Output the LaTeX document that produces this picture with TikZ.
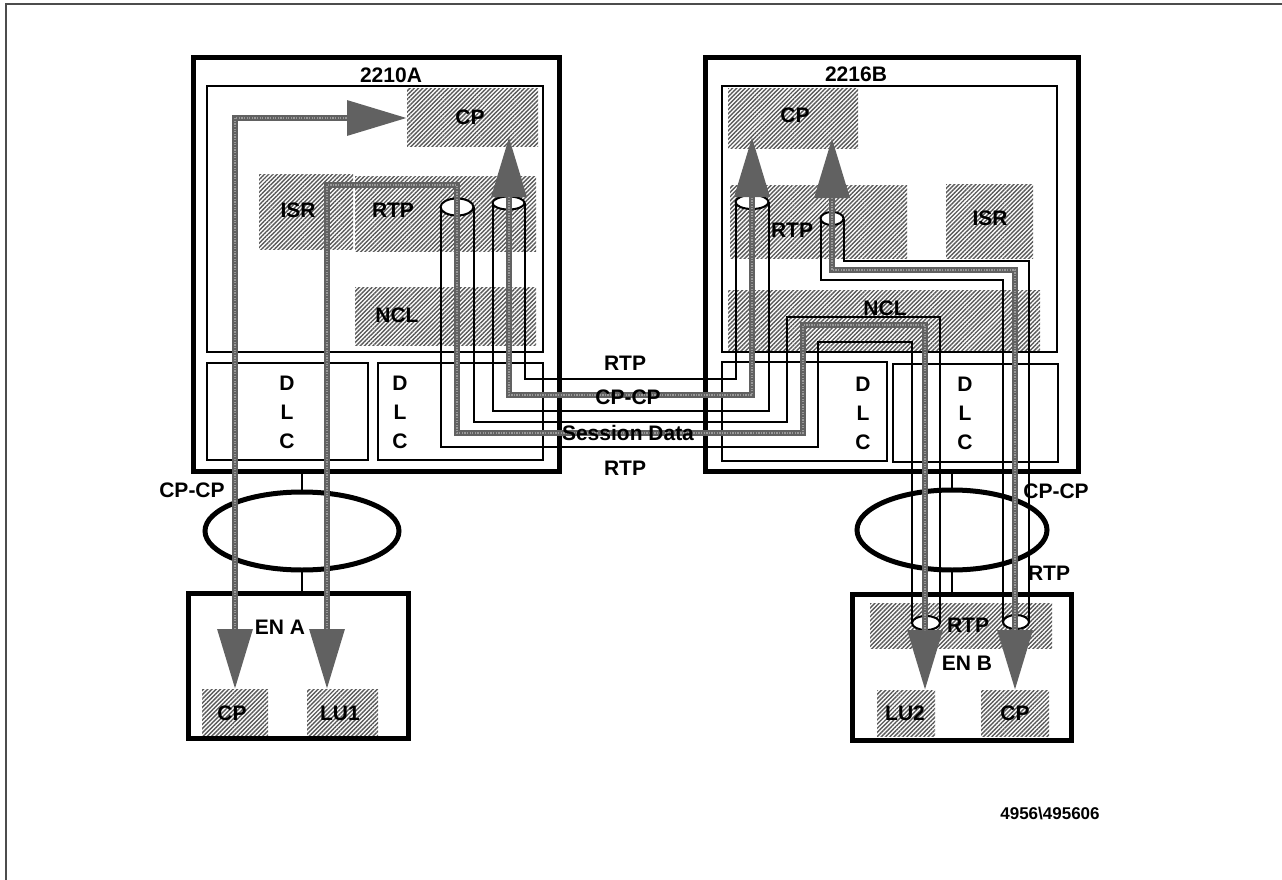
\documentclass[tikz,border=0pt]{standalone}
\usepackage{fontspec}
\setmainfont{Liberation Sans}
\usepackage{tikz}
\usetikzlibrary{arrows.meta, positioning, shapes.geometric, patterns.meta}

\begin{document}
\begin{tikzpicture}[
    x=1pt, y=-1pt,
    every node/.style={inner sep=0pt, outer sep=0pt},
    lbl/.style={font=\fontsize{21}{29}\selectfont\bfseries, align=center},
    nodebox/.style={rectangle, draw, line width=5pt},
    corebox/.style={rectangle, draw, line width=2.5pt},
    dlc/.style={rectangle, draw, line width=2pt},
    hatch/.style={rectangle, pattern={Lines[angle=45,distance=3pt,line width=1.4pt]},
                  pattern color=black!65},
    lan/.style={ellipse, draw, line width=5pt},
    opening/.style={ellipse, draw, fill=white, line width=2pt},
    tube/.style={line width=2pt},
    pipe/.style={line width=6.5pt, draw=black!62,
                 {Triangle[length=60pt,width=34pt]}-{Triangle[length=60pt,width=34pt]},
                 postaction={draw=black!40, line width=2.5pt, -, dash pattern=on 1.3pt off 1.3pt,
                             shorten <=60pt, shorten >=60pt}},
]
\useasboundingbox (0,0) rectangle (1282,880);
\draw[line width=2pt, black!70] (6,880) -- (6,4) -- (1282,4);

% network node 2210A
\node[hatch, minimum width=131pt, minimum height=58pt] (cpA)  at (472.5,118) {};
\node[hatch, minimum width=94pt,  minimum height=75pt] (isrA) at (306,211.5) {};
\node[hatch, minimum width=181pt, minimum height=75pt] (rtpA) at (445.5,213.5) {};
\node[hatch, minimum width=181pt, minimum height=58pt] (nclA) at (445.5,316) {};
\node[corebox, minimum width=336pt, minimum height=266pt] (coreA) at (375,219) {};
\node[dlc, minimum width=161pt, minimum height=97pt] (dlcA1) at (287.5,411.5) {};
\node[dlc, minimum width=165pt, minimum height=97pt] (dlcA2) at (460.5,411.5) {};
\node[nodebox, minimum width=366pt, minimum height=413pt] (boxA) at (376,264.5) {};

% network node 2216B
\node[hatch, minimum width=130pt, minimum height=60pt] (cpB)  at (793,119) {};
\node[hatch, minimum width=177pt, minimum height=73pt] (rtpB) at (818.5,221.5) {};
\node[hatch, minimum width=87pt,  minimum height=74pt] (isrB) at (989.5,221) {};
\node[hatch, minimum width=312pt, minimum height=60pt] (nclB) at (884,320) {};
\node[corebox, minimum width=335pt, minimum height=266pt] (coreB) at (889.5,219) {};
\node[dlc, minimum width=165pt, minimum height=99pt] (dlcB1) at (804.5,411.5) {};
\node[dlc, minimum width=165pt, minimum height=98pt] (dlcB2) at (975.5,413) {};
\node[nodebox, minimum width=373pt, minimum height=413pt] (boxB) at (891.5,264.5) {};

% end nodes
\node[hatch, minimum width=66pt,  minimum height=46pt] (cpEA)  at (235,712) {};
\node[hatch, minimum width=71pt,  minimum height=46pt] (lu1)   at (342.5,712) {};
\node[nodebox, minimum width=220pt, minimum height=145pt] (enA) at (298,665.5) {};
\node[hatch, minimum width=182pt, minimum height=45pt] (rtpEB) at (961,625.5) {};
\node[hatch, minimum width=58pt,  minimum height=46pt] (lu2)   at (906,713) {};
\node[hatch, minimum width=68pt,  minimum height=46pt] (cpEB)  at (1015,713) {};
\node[nodebox, minimum width=219pt, minimum height=146pt] (enB) at (961.5,667) {};

% LANs
\node[lan, minimum width=194pt, minimum height=78pt] (lanA) at (302,531) {};
\node[lan, minimum width=190pt, minimum height=80pt] (lanB) at (952,530) {};
\draw[line width=2pt] (lanA.north) -- (lanA.north |- boxA.south);
\draw[line width=2pt] (lanA.south) -- (lanA.south |- enA.north);
\draw[line width=2pt] (lanB.north) -- (lanB.north |- boxB.south);
\draw[line width=2pt] (lanB.south) -- (lanB.south |- enB.north);

% RTP pipes
\node[opening, minimum width=33pt, minimum height=17pt] (oA1)  at (457,207) {};
\node[opening, minimum width=32pt, minimum height=13pt] (oA2)  at (508.5,203) {};
\node[opening, minimum width=33pt, minimum height=14pt] (oB2)  at (752,202) {};
\node[opening, minimum width=23pt, minimum height=13pt] (oB3)  at (832,218.5) {};
\node[opening, minimum width=28pt, minimum height=14pt] (oEB1) at (926,623) {};
\node[opening, minimum width=26pt, minimum height=14pt] (oEB2) at (1016,622) {};
\draw[tube] (oA1.west) |- (818,447) -- (818,342) -| (oEB1.west);
\draw[tube] (oA1.east) |- (787,422) -- (787,317) -| (oEB1.east);
\draw[tube] (oA2.west) -- (492.5,411) -| (oB2.east);
\draw[tube] (oA2.east) -- (524.5,379) -| (oB2.west);
\draw[tube] (oB3.west) -- (820.5,280) -| (oEB2.west);
\draw[tube] (oB3.east) -- (843.5,261) -| (oEB2.east);

% sessions
\draw[pipe] (cpEA.north) |- (cpA.west);
\draw[pipe] ([xshift=-15.5pt]lu1.north) |- (457,185) -- (457,433) -| (803,325)
    -| ([xshift=19pt]lu2.north);
\draw[pipe] ([xshift=36.5pt,yshift=10pt]cpA.south) |- (752,395)
    -- ([xshift=-41pt,yshift=12pt]cpB.south);
\draw[pipe] ([xshift=39pt,yshift=11pt]cpB.south) |- (1015,270) -- (cpEB.north);

% labels
\node[lbl] (t2210) at (391,75) {2210A};
\node[lbl] (t2216) at (856,74) {2216B};
\node[lbl] (tcpA)  at (470,117) {CP};
\node[lbl] (tisrA) at (298,210) {ISR};
\node[lbl] (trtpA) at (393,210) {RTP};
\node[lbl] (tnclA) at (397,315) {NCL};
\node[lbl] (tcpB)  at (795,115) {CP};
\node[lbl] (trtpB) at (792,230) {RTP};
\node[lbl] (tisrB) at (990,218) {ISR};
\node[lbl] (tnclB) at (885,308) {NCL};
\node[lbl] (tdA1) at (287,412) {D\\L\\C};
\node[lbl] (tdA2) at (400,412) {D\\L\\C};
\node[lbl] (tdB1) at (863,413) {D\\L\\C};
\node[lbl] (tdB2) at (965,413) {D\\L\\C};
\node[lbl] (trtp1) at (625,363) {RTP};
\node[lbl] (tcpcp) at (628,397) {CP-CP};
\node[lbl] (tsess) at (628,433) {Session Data};
\node[lbl] (trtp2) at (625,468) {RTP};
\node[lbl] (tcpcpA) at (192,490) {CP-CP};
\node[lbl] (tcpcpB) at (1056,491) {CP-CP};
\node[lbl] (trtpB2) at (1049,573) {RTP};
\node[lbl] (tenA) at (280,627) {EN A};
\node[lbl] (tcpEA) at (232,713) {CP};
\node[lbl] (tlu1) at (340,713) {LU1};
\node[lbl] (trtpEB) at (968,625) {RTP};
\node[lbl] (tenB) at (967,663) {EN B};
\node[lbl] (tlu2) at (905,713) {LU2};
\node[lbl] (tcpEB) at (1015,713) {CP};
\node[font=\fontsize{17}{20}\selectfont\bfseries] (figid) at (1050,813) {4956\textbackslash 495606};
\end{tikzpicture}
\end{document}
